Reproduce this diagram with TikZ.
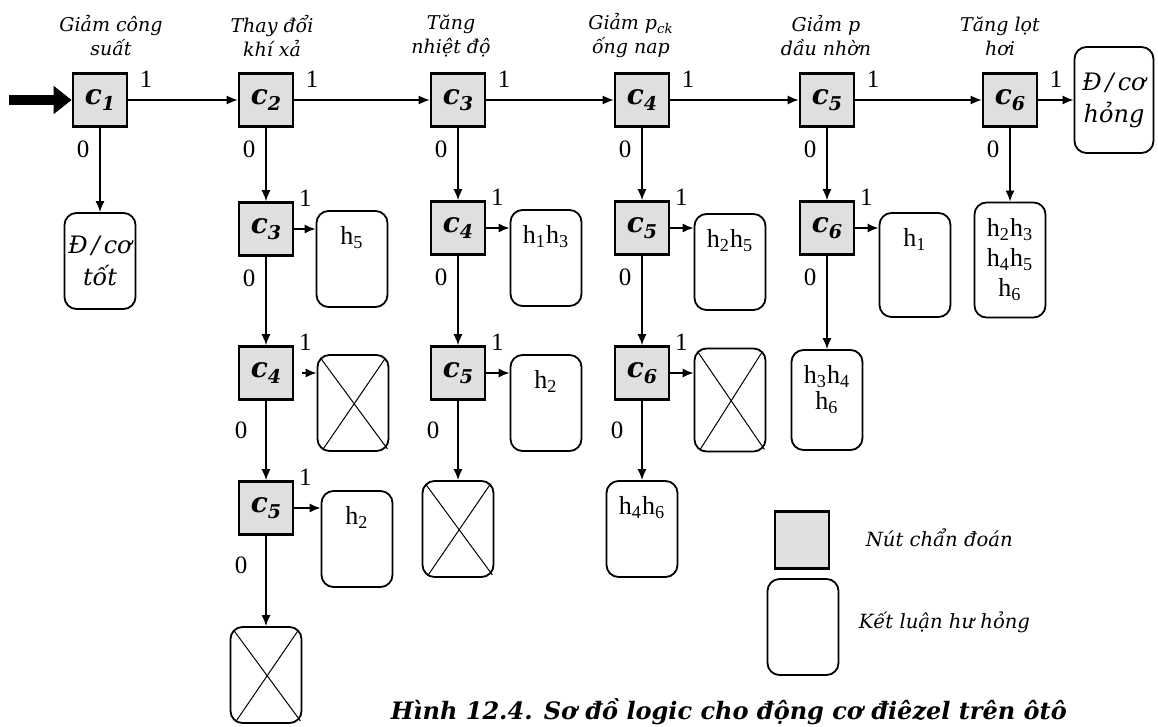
\documentclass[tikz,border=0pt]{standalone}
\usepackage{fontspec}
\setmainfont{Liberation Serif}
\newfontfamily\schfont{DejaVu Serif}
\usetikzlibrary{arrows.meta}
\newcommand{\TestFont}{\schfont\bfseries\itshape\fontsize{14}{14}\selectfont}
\newcommand{\TestSubFont}{\schfont\bfseries\itshape\fontsize{9.5}{9.5}\selectfont}
\newcommand{\cn}[1]{{\TestFont c\raisebox{-3pt}{\TestSubFont #1}}}
\newcommand{\hs}[1]{h\textsubscript{#1}}
\tikzset{
  testbox/.style={
    draw,
    line width=1.3pt,
    fill=gray!25,
    minimum width=27pt,
    minimum height=26.5pt,
    inner sep=0pt
  },
  resbox/.style={
    draw,
    line width=0.9pt,
    rounded corners=6pt,
    minimum width=35.5pt,
    minimum height=48pt,
    inner sep=0pt
  },
  restext/.style={
    anchor=north,
    yshift=-8pt,
    align=center,
    inner sep=0pt,
    font=\fontsize{13}{15}\selectfont
  },
  italtext/.style={
    align=center,
    font=\schfont\itshape\fontsize{12}{16}\selectfont
  },
  stephead/.style={
    align=center,
    inner sep=0pt,
    font=\schfont\itshape\fontsize{9.5}{12}\selectfont
  },
  legtext/.style={
    anchor=west,
    inner sep=0pt,
    font=\schfont\itshape\fontsize{9.8}{12}\selectfont
  },
  lblone/.style={pos=0,anchor=south west,inner sep=2pt,xshift=3.4pt,yshift=3.75pt,
    font=\fontsize{12.5}{12.5}\selectfont},
  lblonelow/.style={pos=0,anchor=south west,inner sep=2pt,xshift=0pt,yshift=9pt,
    font=\fontsize{12.5}{12.5}\selectfont},
  lblzero/.style={pos=0,anchor=north east,inner sep=2pt,xshift=-3pt,yshift=-4pt,
    font=\fontsize{12.5}{12.5}\selectfont},
  lblzerolow/.style={pos=0,anchor=north east,inner sep=2pt,xshift=-7pt,yshift=-8pt,
    font=\fontsize{12.5}{12.5}\selectfont}
}
\newcommand{\VerdictBox}[4][]{%
  \node[resbox,#1] (#2) at (#3) {};
  \node[restext] (#2t) at (#2.north) {#4};
}
\newcommand{\CrossBox}[3][]{%
  \node[resbox,#1] (#2) at (#3) {};
  \draw[line width=0.5pt]
    ([shift={(2pt,-2pt)}]#2.north west) -- ([shift={(-1pt,1.5pt)}]#2.south east)
    ([shift={(-2pt,-2pt)}]#2.north east) -- ([shift={(3pt,1pt)}]#2.south west);
}

\begin{document}
\begin{tikzpicture}[x=0.5pt,y=-0.5pt,line width=0.75pt,>={Latex[length=5.5pt,width=4.5pt]}]
  \useasboundingbox (0,0) rectangle (1158,727);

  \node[stephead] (hd1) at (111,36) {Giảm công\\suất};
  \node[stephead] (hd2) at (272,36) {Thay đổi\\khí xả};
  \node[stephead] (hd3) at (451,36) {Tăng\\nhiệt độ};
  \node[stephead] (hd4) at (631,36) {Giảm p\textsubscript{ck}\\ống nap};
  \node[stephead] (hd5) at (826,36) {Giảm p\\dầu nhờn};
  \node[stephead] (hd6) at (1000,36) {Tăng lọt\\hơi};

  \node[testbox] (c1) at (100,100) {\cn{1}};
  \node[testbox] (c2) at (266,100) {\cn{2}};
  \node[testbox] (c3) at (458,100) {\cn{3}};
  \node[testbox] (c4) at (642,100) {\cn{4}};
  \node[testbox] (c5) at (827,100) {\cn{5}};
  \node[testbox] (c6) at (1010,100) {\cn{6}};
  \node[resbox,italtext,minimum width=39.5pt,minimum height=53pt] (r6b) at (1114,100) {Đ\,/\,cơ\\hỏng};

  \coordinate (inlet) at (9,100);
  \draw[line width=5pt,-{Triangle[length=9pt,width=13.5pt]}] (inlet) -- (c1);
  \draw[->] (c1) -- node[lblone] {1} (c2);
  \draw[->] (c2) -- node[lblone] {1} (c3);
  \draw[->] (c3) -- node[lblone] {1} (c4);
  \draw[->] (c4) -- node[lblone] {1} (c5);
  \draw[->] (c5) -- node[lblone] {1} (c6);
  \draw[->] (c6) -- node[lblone] {1} (r6b);

  % column c1
  \node[resbox,italtext] (r1) at (100,261) {Đ\,/\,cơ\\tốt};
  \draw[->] (c1) -- node[lblzero] {0} (r1);

  % column c2
  \node[testbox] (c2x3) at (266,229) {\cn{3}};
  \node[testbox] (c2x4) at (266,373) {\cn{4}};
  \node[testbox] (c2x5) at (266,508) {\cn{5}};
  \VerdictBox{r2a}{352,259}{\hs{5}}
  \CrossBox{r2b}{353,403}
  \VerdictBox{r2c}{357,539}{\hs{2}}
  \CrossBox{r2d}{266,675}
  \draw[->] (c2) -- node[lblzero] {0} (c2x3);
  \draw[->] (c2x3) -- node[lblonelow] {1} (c2x3 -| r2a.west);
  \draw[->] (c2x3) -- node[lblzero] {0} (c2x4);
  \draw[->,shorten <=4pt] (c2x4) -- node[lblonelow] {1} (c2x4 -| r2b.west);
  \draw[->] (c2x4) -- node[lblzerolow] {0} (c2x5);
  \draw[->] (c2x5) -- node[lblonelow] {1} (c2x5 -| r2c.west);
  \draw[->] (c2x5) -- node[lblzerolow] {0} (r2d);

  % column c3
  \node[testbox] (c3x4) at (458,228) {\cn{4}};
  \node[testbox] (c3x5) at (458,373) {\cn{5}};
  \VerdictBox{r3a}{546,258}{\hs{1}\hs{3}}
  \VerdictBox{r3b}{546,403}{\hs{2}}
  \CrossBox{r3c}{458,529}
  \draw[->] (c3) -- node[lblzero] {0} (c3x4);
  \draw[->] (c3x4) -- node[lblonelow] {1} (c3x4 -| r3a.west);
  \draw[->] (c3x4) -- node[lblzero] {0} (c3x5);
  \draw[->] (c3x5) -- node[lblonelow] {1} (c3x5 -| r3b.west);
  \draw[->] (c3x5) -- node[lblzerolow] {0} (r3c);

  % column c4
  \node[testbox] (c4x5) at (642,228) {\cn{5}};
  \node[testbox] (c4x6) at (642,373) {\cn{6}};
  \VerdictBox{r4a}{730,262}{\hs{2}\hs{5}}
  \CrossBox[minimum height=51.5pt]{r4b}{730,400}
  \VerdictBox{r4c}{642,529}{\hs{4}\hs{6}}
  \draw[->] (c4) -- node[lblzero] {0} (c4x5);
  \draw[->] (c4x5) -- node[lblonelow] {1} (c4x5 -| r4a.west);
  \draw[->] (c4x5) -- node[lblzero] {0} (c4x6);
  \draw[->] (c4x6) -- node[lblonelow] {1} (c4x6 -| r4b.west);
  \draw[->] (c4x6) -- node[lblzerolow] {0} (r4c);

  % column c5
  \node[testbox] (c5x6) at (827,228) {\cn{6}};
  \VerdictBox[minimum height=52pt]{r5a}{915,265}{\hs{1}}
  \VerdictBox[minimum height=50pt]{r5b}{827,400}{\hs{3}\hs{4}\\[-2pt]\hs{6}}
  \draw[->] (c5) -- node[lblzero] {0} (c5x6);
  \draw[->] (c5x6) -- node[lblonelow] {1} (c5x6 -| r5a.west);
  \draw[->] (c5x6) -- node[lblzero] {0} (r5b);

  % column c6
  \VerdictBox[minimum height=57.5pt]{r6a}{1010,260}{\hs{2}\hs{3}\\\hs{4}\hs{5}\\\hs{6}}
  \draw[->] (c6) -- node[lblzero] {0} (r6a);

  % legend
  \node[testbox,minimum height=28.5pt] (lgtest) at (802,540) {};
  \node[legtext] (lgtestt) at (865,538) {Nút chẩn đoán};
  \node[resbox] (lgres) at (803,627) {};
  \node[legtext] (lgrest) at (858,622) {Kết luận hư hỏng};

  \node[anchor=base west,inner sep=0pt,font=\schfont\bfseries\itshape\fontsize{12}{12}\selectfont]
    (cap) at (390,719) {Hình 12.4. Sơ đồ logic cho động cơ điêzel trên ôtô};
\end{tikzpicture}
\end{document}
